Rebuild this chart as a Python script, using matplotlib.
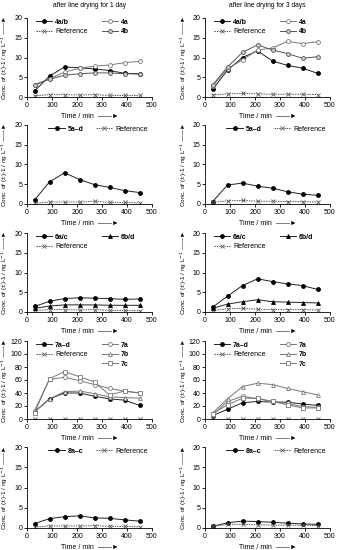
import matplotlib
matplotlib.use("Agg")
import matplotlib.pyplot as plt
from matplotlib.lines import Line2D

plt.rcParams['font.family'] = ['Liberation Sans', 'DejaVu Sans']
plt.rcParams['font.size'] = 5

# Daten
time_min = [30, 90, 150, 210, 270, 330, 390, 450]

# Reihe 1: Verbindung 4
d1_4ab = [1.5, 5.3, 7.6, 7.4, 7.1, 6.7, 6.0, 5.9]
d1_4a = [3.1, 4.6, 6.3, 7.3, 7.8, 8.1, 8.7, 9.0]
d1_4b = [3.0, 4.5, 5.5, 5.9, 6.1, 6.1, 5.9, 5.8]
d1_ref4 = [0.3, 0.6, 0.6, 0.5, 0.6, 0.4, 0.4, 0.4]
d3_4ab = [1.9, 6.8, 10.0, 11.7, 9.1, 8.0, 7.3, 6.0]
d3_4a = [2.8, 7.2, 9.4, 11.9, 12.4, 14.1, 13.5, 14.0]
d3_4b = [3.0, 7.6, 11.3, 13.2, 11.9, 11.0, 9.8, 10.2]
d3_ref4 = [0.5, 0.8, 0.9, 0.8, 0.7, 0.7, 0.7, 0.6]

# Reihe 2: Verbindung 5
d1_5 = [1.0, 5.6, 7.9, 6.2, 4.9, 4.2, 3.4, 2.9]
d1_ref5 = [0.2, 0.5, 0.5, 0.5, 0.7, 0.4, 0.4, 0.3]
d3_5 = [0.6, 4.8, 5.3, 4.5, 4.0, 3.1, 2.5, 2.2]
d3_ref5 = [0.4, 0.8, 0.9, 0.7, 0.7, 0.6, 0.6, 0.5]

# Reihe 3: Verbindung 6
d1_6ac = [1.4, 2.7, 3.4, 3.6, 3.5, 3.4, 3.2, 3.3]
d1_6bd = [0.9, 1.5, 1.8, 1.8, 1.8, 1.7, 1.7, 1.7]
d1_ref6 = [0.4, 0.6, 0.6, 0.5, 0.6, 0.4, 0.4, 0.3]
d3_6ac = [1.2, 4.0, 6.7, 8.4, 7.7, 7.1, 6.7, 5.7]
d3_6bd = [0.9, 2.0, 2.6, 3.1, 2.6, 2.5, 2.4, 2.3]
d3_ref6 = [0.4, 0.8, 0.9, 0.7, 0.6, 0.6, 0.6, 0.5]

# Reihe 4: Verbindung 7
d1_7ad = [11, 31, 40, 40, 35, 31, 29, 21]
d1_7a = [13, 61, 64, 59, 53, 47, 43, 40]
d1_7b = [11, 31, 42, 43, 39, 34, 33, 32]
d1_7c = [9, 62, 73, 65, 57, 37, 43, 40]
d1_ref7 = [0, 0, 0, 0, 0, 0, 0, 0]
d3_7ad = [5, 15, 25, 27, 26, 26, 23, 21]
d3_7a = [6, 27, 35, 31, 27, 24, 19, 18]
d3_7b = [9, 31, 50, 55, 53, 47, 42, 37]
d3_7c = [8, 22, 32, 32, 27, 22, 17, 17]
d3_ref7 = [0, 0, 0, 0, 0, 0, 0, 0]

# Reihe 5: Verbindung 8
d1_8 = [1.1, 2.3, 2.8, 3.0, 2.5, 2.4, 2.0, 1.7]
d1_ref8 = [0.2, 0.5, 0.5, 0.5, 0.6, 0.4, 0.4, 0.3]
d3_8 = [0.4, 1.3, 1.7, 1.6, 1.4, 1.2, 1.0, 0.9]
d3_ref8 = [0.4, 0.9, 0.9, 0.8, 0.7, 0.7, 0.7, 0.6]

W, H = 337, 550
fig = plt.figure(figsize=(W / 100, H / 100), dpi=100)

# Stile
STY = {
    'mix': dict(color='#222222', marker='o', mfc='black', mec='black'),
    'mix_tri': dict(color='#222222', marker='^', mfc='black', mec='black'),
    'ref': dict(color='#555555', marker='x', ls=(0, (1.5, 1)), mec='#555555'),
    'oc': dict(color='#777777', marker='o', mfc='white', mec='#777777'),
    'og': dict(color='#555555', marker='o', mfc='#cccccc', mec='#555555'),
    'ot': dict(color='#777777', marker='^', mfc='white', mec='#777777'),
    'os': dict(color='#777777', marker='s', mfc='white', mec='#777777'),
}


def make_ax(left, top, right, bottom, ymax, ystep, label_x):
    ax = fig.add_axes([left / W, 1 - bottom / H, (right - left) / W, (bottom - top) / H])
    ax.set_xlim(0, 500)
    ax.set_ylim(0, ymax)
    ax.set_xticks(range(0, 501, 100))
    ax.set_yticks(range(0, ymax + 1, ystep))
    for s in ('top', 'right'):
        ax.spines[s].set_visible(False)
    for s in ('left', 'bottom'):
        ax.spines[s].set_linewidth(0.6)
    ax.tick_params(width=0.6, length=2, pad=1.5, labelsize=5)
    ax.set_ylabel('Conc. of (\u00b1)-1 / ng L$^{-1}$ \u2014\u2014\u25ba', fontsize=4.6)
    ax.yaxis.set_label_coords((label_x - left) / (right - left), 0.5)
    ax.set_xlabel('Time / min  \u2014\u2014\u25ba', fontsize=5, labelpad=3)
    return ax


def draw(ax, series, ncol=2, blank_at=None, anchor=(0.07, 0.99), colsp=4.0):
    handles = []
    for y, lab, key in series:
        h, = ax.plot(time_min, y, lw=0.7, ms=2.8, mew=0.6, label=lab, **STY[key])
        handles.append(h)
    if blank_at is not None:
        handles.insert(blank_at, Line2D([], [], alpha=0, label=''))
    leg = ax.legend(handles=handles, ncol=ncol, loc='upper left', bbox_to_anchor=anchor,
                    frameon=False, fontsize=5, handlelength=2.4, handletextpad=0.4,
                    columnspacing=colsp, labelspacing=0.35, borderaxespad=0,
                    borderpad=0)
    for t in leg.get_texts():
        if t.get_text() != 'Reference':
            t.set_fontweight('bold')


rows = [(18, 97), (125, 204), (233, 312), (341, 419), (447, 528)]
colL = (27, 152, 10)
colR = (205, 330, 189)


def ax_at(col, r, ymax=20, ystep=5):
    return make_ax(col[0], rows[r][0], col[1], rows[r][1], ymax, ystep, col[2])


# Reihe 1
a = ax_at(colL, 0)
draw(a, [(d1_4ab, '4a/b', 'mix'), (d1_ref4, 'Reference', 'ref'),
         (d1_4a, '4a', 'oc'), (d1_4b, '4b', 'og')], colsp=2.0)
a.set_title('after line drying for 1 day', fontsize=4.8, pad=8)
a = ax_at(colR, 0)
draw(a, [(d3_4ab, '4a/b', 'mix'), (d3_ref4, 'Reference', 'ref'),
         (d3_4a, '4a', 'oc'), (d3_4b, '4b', 'og')], colsp=2.0)
a.set_title('after line drying for 3 days', fontsize=4.8, pad=8)

# Reihe 2
a = ax_at(colL, 1)
draw(a, [(d1_5, '5a\u2013d', 'mix'), (d1_ref5, 'Reference', 'ref')], anchor=(0.17, 0.99), colsp=1.8)
a = ax_at(colR, 1)
draw(a, [(d3_5, '5a\u2013d', 'mix'), (d3_ref5, 'Reference', 'ref')], anchor=(0.17, 0.99), colsp=1.8)

# Reihe 3
a = ax_at(colL, 2)
draw(a, [(d1_6ac, '6a/c', 'mix'), (d1_ref6, 'Reference', 'ref'), (d1_6bd, '6b/d', 'mix_tri')], colsp=2.0)
a = ax_at(colR, 2)
draw(a, [(d3_6ac, '6a/c', 'mix'), (d3_ref6, 'Reference', 'ref'), (d3_6bd, '6b/d', 'mix_tri')], colsp=2.0)

# Reihe 4
a = ax_at(colL, 3, 120, 20)
draw(a, [(d1_7ad, '7a\u2013d', 'mix'), (d1_ref7, 'Reference', 'ref'),
         (d1_7a, '7a', 'oc'), (d1_7b, '7b', 'ot'), (d1_7c, '7c', 'os')], blank_at=2, colsp=2.0)
a = ax_at(colR, 3, 120, 20)
draw(a, [(d3_7ad, '7a\u2013d', 'mix'), (d3_ref7, 'Reference', 'ref'),
         (d3_7a, '7a', 'oc'), (d3_7b, '7b', 'ot'), (d3_7c, '7c', 'os')], blank_at=2, colsp=2.0)

# Reihe 5
a = ax_at(colL, 4)
draw(a, [(d1_8, '8a\u2013c', 'mix'), (d1_ref8, 'Reference', 'ref')], anchor=(0.17, 0.99), colsp=1.8)
a = ax_at(colR, 4)
draw(a, [(d3_8, '8a\u2013c', 'mix'), (d3_ref8, 'Reference', 'ref')], anchor=(0.17, 0.99), colsp=1.8)

fig.savefig('out.png', dpi=100)
